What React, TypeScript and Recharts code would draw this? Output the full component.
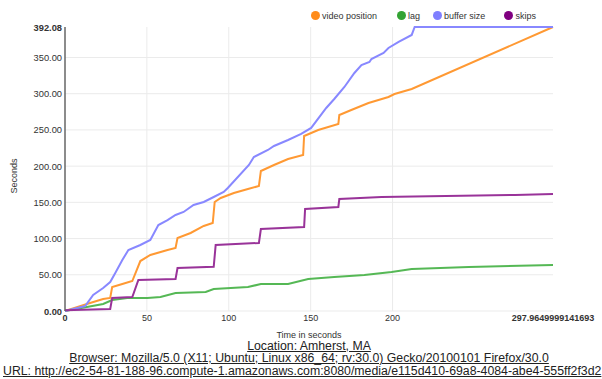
import React from 'react'
import { LineChart, Line, XAxis, YAxis, CartesianGrid } from 'recharts'

const xMax = 297.9649999141693
const yMax = 392.08
const xTicks = [0, 50, 100, 150, 200, xMax]
const yTicks = [0, 50, 100, 150, 200, 250, 300, 350, yMax]

// video position
const videoT = [0, 15.3, 23.3, 27.6, 28.8, 35, 41.1, 46, 52.1, 62.6, 67.5, 68.7, 76.7, 84.7, 90.2, 91.4, 95.1, 103.1, 111.7, 118.4, 119.6, 127.6, 136.2, 145.4, 146, 154.6, 166.9, 167.5, 174.8, 185.3, 197.5, 201.2, 211.7, xMax]
const videoV = [0, 11, 16.6, 18, 33.1, 37.3, 41.4, 69, 77.3, 84.2, 87, 100.8, 107.7, 117.4, 121.5, 150.5, 156, 162.9, 168.4, 172.6, 193.3, 201.6, 209.9, 215.4, 241.6, 249.9, 258.2, 270.6, 277.5, 287.2, 295.5, 299.6, 306.5, yMax]

// lag
const lagT = [0, 23.3, 28.8, 38, 50.3, 58.3, 67.5, 85.9, 90.8, 111.7, 119.6, 136.2, 148.5, 164.4, 182.8, 199.4, 211.7, 246.6, xMax]
const lagV = [0, 9.7, 15.2, 18, 18, 19.3, 24.9, 26.2, 30.4, 33.1, 37.3, 37.3, 44.2, 46.9, 49.7, 53.8, 58, 60.7, 63.5]

// buffer size
const bufferT = [0, 12.3, 17.2, 23.3, 27.6, 30.7, 35, 38.7, 46, 52.1, 57, 62.6, 67.5, 72.4, 78.5, 84.7, 90.8, 96.9, 99.4, 112.3, 115.3, 123.9, 127.6, 136.2, 144.2, 150.3, 159.5, 164.4, 170.6, 176.7, 181, 185.9, 187.1, 194.5, 197.5, 203.7, 211.7, 213.5, xMax]
const bufferV = [0, 6.9, 22.1, 31.8, 40, 52.5, 70.4, 84.2, 91.1, 98, 118.7, 125.6, 132.5, 136.7, 146.3, 150.5, 157.4, 164.3, 169.8, 201.6, 212.6, 222.3, 227.8, 236.1, 244.4, 252.7, 280.3, 292.7, 309.3, 328.6, 339.6, 343.8, 347.9, 356.2, 363.1, 371.4, 381.1, yMax, yMax]

// skips
const skipsT = [0, 27.6, 28.8, 41.1, 44.8, 67.5, 68.7, 90.8, 92, 118.4, 119.6, 146, 146.6, 166.9, 167.5, 193.3, 274.8, xMax]
const skipsV = [1, 2.8, 18, 19.3, 42.8, 44.2, 59.4, 61, 91.1, 93.9, 113.2, 116, 140.8, 143.6, 154.6, 157.4, 160.2, 161.5]

const series = [
  { name: 'video position', color: '#ff9933', dot: '#ff8c1a', t: videoT, v: videoV },
  { name: 'lag', color: '#55b855', dot: '#33a333', t: lagT, v: lagV },
  { name: 'buffer size', color: '#8888ff', dot: '#7f7fff', t: bufferT, v: bufferV },
  { name: 'skips', color: '#993399', dot: '#800080', t: skipsT, v: skipsV },
]

const font = 'Liberation Sans, Arial, sans-serif'

function YTick({ x, y, payload }: any) {
  const edge = payload.value === 0 || payload.value === yMax
  return (
    <text x={x} y={y} dy={3.5} textAnchor="end" fontSize={9.3} fill="#333" fontFamily={font} fontWeight={edge ? 'bold' : 'normal'}>
      {payload.value.toFixed(2)}
    </text>
  )
}

function XTick({ x, y, payload }: any) {
  const edge = payload.value === 0 || payload.value === xMax
  return (
    <text x={x} y={y} dy={7} textAnchor="middle" fontSize={9} fill="#333" fontFamily={font} fontWeight={edge ? 'bold' : 'normal'}>
      {String(payload.value)}
    </text>
  )
}

const legendX = [315, 401, 437, 508.5]

export default function App() {
  return (
    <div style={{ position: 'absolute', left: 0, top: 0, width: 602, height: 379, background: '#fff', fontFamily: font, overflow: 'hidden' }}>
      <LineChart width={602} height={330} margin={{ top: 27, right: 49, left: 5, bottom: 0 }}>
        <CartesianGrid stroke="#ebebeb" horizontalValues={[0, 50, 100, 150, 200, 250, 300, 350]} verticalValues={[50, 100, 150, 200]} />
        <XAxis type="number" dataKey="t" domain={[0, xMax]} ticks={xTicks} axisLine={false} tickLine={false} tickSize={0} tickMargin={3} height={19} tick={<XTick />} interval={0} allowDuplicatedCategory={false} />
        <YAxis type="number" domain={[0, yMax]} ticks={yTicks} width={60} axisLine={{ stroke: '#666', strokeWidth: 1.5 }} tickLine={false} tickSize={0} tickMargin={3} tick={<YTick />} interval={0} />
        {series.map((s) => (
          <Line
            key={s.name}
            data={s.t.map((t, i) => ({ t, v: s.v[i] }))}
            dataKey="v"
            name={s.name}
            type="linear"
            stroke={s.color}
            strokeWidth={2}
            dot={false}
            isAnimationActive={false}
          />
        ))}
      </LineChart>
      {series.map((s, i) => (
        <div key={s.name} style={{ position: 'absolute', left: legendX[i] - 4.5, top: 10.5, height: 10, display: 'flex', alignItems: 'center', fontSize: 9, color: '#333', whiteSpace: 'nowrap' }}>
          <span style={{ width: 9, height: 9, borderRadius: '50%', background: s.dot, display: 'inline-block', marginRight: 2.5 }} />
          {s.name}
        </div>
      ))}
      <div style={{ position: 'absolute', left: 14, top: 176, transform: 'translate(-50%, -50%) rotate(-90deg)', fontSize: 9, color: '#333', whiteSpace: 'nowrap' }}>Seconds</div>
      <div style={{ position: 'absolute', left: 309, top: 335, transform: 'translate(-50%, -50%)', fontSize: 9, color: '#333', whiteSpace: 'nowrap' }}>Time in seconds</div>
      <div style={{ position: 'absolute', left: 0, top: 339.5, width: 618, fontSize: 12.3, lineHeight: '12.5px', color: '#222', textAlign: 'center', textDecoration: 'underline' }}>
        <div>Location: Amherst, MA</div>
        <div>Browser: Mozilla/5.0 (X11; Ubuntu; Linux x86_64; rv:30.0) Gecko/20100101 Firefox/30.0</div>
      </div>
      <div style={{ position: 'absolute', left: 3, top: 364.5, fontSize: 12.3, lineHeight: '12.5px', color: '#222', whiteSpace: 'nowrap', textDecoration: 'underline' }}>
        URL: http://ec2-54-81-188-96.compute-1.amazonaws.com:8080/media/e115d410-69a8-4084-abe4-555ff2f3d2
      </div>
    </div>
  )
}
